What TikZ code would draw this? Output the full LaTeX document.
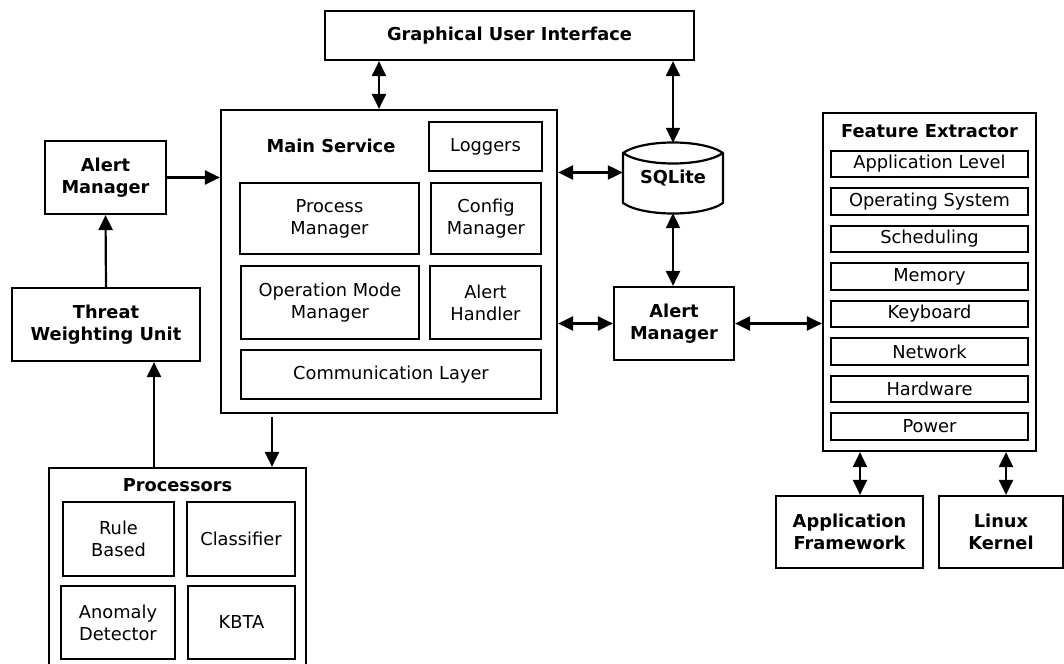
\documentclass[tikz,border=0pt]{standalone}
\usepackage{fontspec}
\setmainfont{DejaVu Sans}
\usetikzlibrary{arrows.meta}
\newcommand\diagfont{\fontsize{17.8}{22}\selectfont}
\begin{document}
\begin{tikzpicture}[x=1pt,y=-1pt,font=\diagfont,
    box/.style={draw,line width=2.2pt,align=center,inner sep=0pt},
    bbox/.style={box,font=\diagfont\bfseries},
    title/.style={font=\diagfont\bfseries,inner sep=0pt},
    dbl/.style={line width=2.2pt,{Triangle[length=15pt,width=14pt]}-{Triangle[length=15pt,width=14pt]}},
    sgl/.style={line width=2.2pt,-{Triangle[length=15pt,width=14pt]}}]
    \clip (0,0) rectangle (1064,663);
    \node[bbox,minimum width=369pt,minimum height=49pt] (gui) at (509.5,35.5) {Graphical User Interface};
    \node[box,minimum width=336pt,minimum height=303pt] (main) at (389,261.5) {};
    \node[title] (mainlbl) at (331,146) {Main Service};
    \node[box,minimum width=113pt,minimum height=49pt] (loggers) at (485.5,146.5) {Loggers};
    \node[box,minimum width=179pt,minimum height=71pt] (procman) at (329.5,218.5) {Process\\Manager};
    \node[box,minimum width=110pt,minimum height=71pt] (config) at (486,218.5) {Config\\Manager};
    \node[box,minimum width=178pt,minimum height=73pt] (opmode) at (330,302.5) {Operation Mode\\Manager};
    \node[box,minimum width=111pt,minimum height=73pt] (handler) at (485.5,302.5) {Alert\\Handler};
    \node[box,minimum width=300pt,minimum height=49pt] (comm) at (391,374.5) {Communication Layer};
    \node[bbox,minimum width=121pt,minimum height=73pt] (alertl) at (105.5,177.5) {Alert\\Manager};
    \node[bbox,minimum width=188pt,minimum height=73pt] (threat) at (106,324.5) {Threat\\Weighting Unit};
    \node[box,minimum width=257pt,minimum height=232pt] (proc) at (177.5,584) {};
    \node[title] (proclbl) at (177.5,485) {Processors};
    \node[box,minimum width=111pt,minimum height=74pt] (rule) at (118.5,539) {Rule\\Based};
    \node[box,minimum width=108pt,minimum height=74pt] (classifier) at (241,539) {Classifier};
    \node[box,minimum width=114pt,minimum height=73pt] (anomaly) at (118,622.5) {Anomaly\\Detector};
    \node[box,minimum width=107pt,minimum height=73pt] (kbta) at (241.5,622.5) {KBTA};
    \draw[line width=2.2pt,line join=round] (623,153) .. controls (643,139) and (703,139) .. (723,153) -- (723,203) .. controls (703,217) and (643,217) .. (623,203) -- cycle;
    \draw[line width=2.2pt] (623,153) .. controls (643,167) and (703,167) .. (723,153);
    \node[title,minimum width=100pt,minimum height=70pt] (sqlite) at (673,178) {\raisebox{-4pt}{SQLite}};
    \node[bbox,minimum width=120pt,minimum height=73pt] (alertm) at (674,323.5) {Alert\\Manager};
    \node[box,minimum width=213pt,minimum height=338pt] (fe) at (929.5,282) {};
    \node[title] (felbl) at (929.5,131) {Feature Extractor};
    \foreach \name/\txt [count=\i from 0] in {applvl/Application Level,os/Operating System,sched/Scheduling,mem/Memory,kbd/Keyboard,net/Network,hw/Hardware,pwr/Power}
        \node[box,minimum width=197pt,minimum height=26.5pt] (\name) at (929.5,164+37.5*\i) {\txt};
    \node[bbox,minimum width=147pt,minimum height=72pt] (appfw) at (849.5,532) {Application\\Framework};
    \node[bbox,minimum width=124pt,minimum height=72pt] (linux) at (1001,532) {Linux\\Kernel};
    \draw[dbl] (379,0 |- gui.south) -- (379,0 |- main.north);
    \draw[dbl] (gui.south -| sqlite.north) -- (sqlite.north);
    \draw[sgl] (alertl.east) -- (alertl.east -| main.west);
    \draw[sgl] (threat.north) -- (alertl.south);
    \draw[sgl] (154,0 |- proc.north) -- (154,0 |- threat.south);
    \draw[sgl] (272,417) -- (272,0 |- proc.north);
    \draw[dbl] (main.east |- 0,172.5) -- (sqlite.west |- 0,172.5);
    \draw[dbl] (sqlite.south) -- (sqlite.south |- alertm.north);
    \draw[dbl] (alertm.west -| main.east) -- (alertm.west);
    \draw[dbl] (alertm.east) -- (alertm.east -| fe.west);
    \draw[dbl] (860,0 |- fe.south) -- (860,0 |- appfw.north);
    \draw[dbl] (1006,0 |- fe.south) -- (1006,0 |- linux.north);
\end{tikzpicture}
\end{document}
